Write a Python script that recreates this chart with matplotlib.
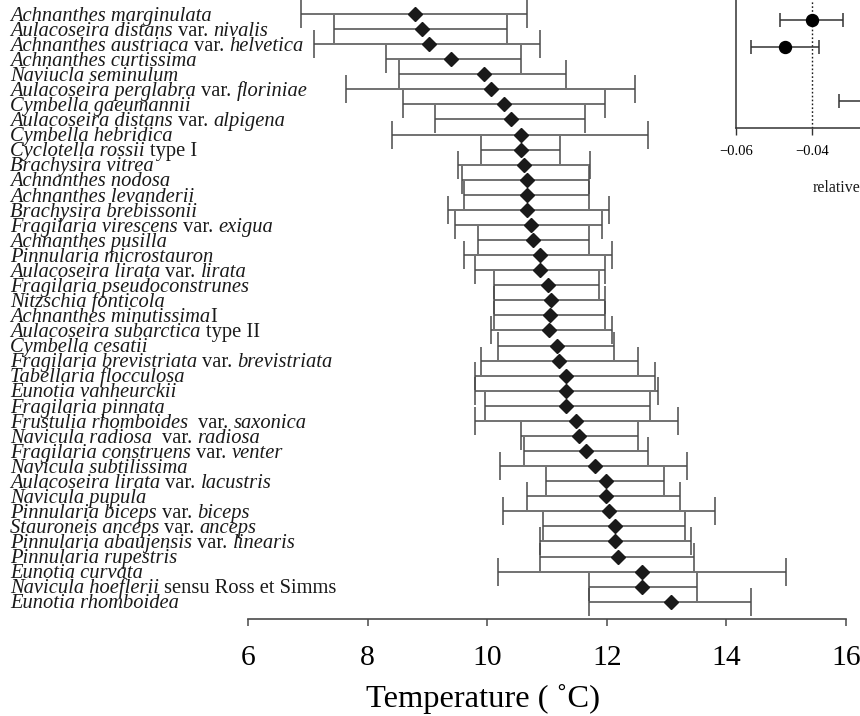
import re
import matplotlib
matplotlib.use("Agg")
import matplotlib.pyplot as plt
from matplotlib.transforms import blended_transform_factory

# Taxon names; text in braces is set upright, the rest in italics
taxa = [
    "Achnanthes marginulata",
    "Aulacoseira distans {var.} nivalis",
    "Achnanthes austriaca {var.} helvetica",
    "Achnanthes curtissima",
    "Naviucla seminulum",
    "Aulacoseira perglabra {var.} floriniae",
    "Cymbella gaeumannii",
    "Aulacoseira distans {var.} alpigena",
    "Cymbella hebridica",
    "Cyclotella rossii {type I}",
    "Brachysira vitrea",
    "Achnanthes nodosa",
    "Achnanthes levanderii",
    "Brachysira brebissonii",
    "Fragilaria virescens {var.} exigua",
    "Achnanthes pusilla",
    "Pinnularia microstauron",
    "Aulacoseira lirata {var.} lirata",
    "Fragilaria pseudoconstrunes",
    "Nitzschia fonticola",
    "Achnanthes minutissima{I}",
    "Aulacoseira subarctica {type II}",
    "Cymbella cesatii",
    "Fragilaria brevistriata {var.} brevistriata",
    "Tabellaria flocculosa",
    "Eunotia vanheurckii",
    "Fragilaria pinnata",
    "Frustulia rhomboides  {var.} saxonica",
    "Navicula radiosa  {var.} radiosa",
    "Fragilaria construens {var.} venter",
    "Navicula subtilissima",
    "Aulacoseira lirata {var.} lacustris",
    "Navicula pupula",
    "Pinnularia biceps {var.} biceps",
    "Stauroneis anceps {var.} anceps",
    "Pinnularia abaujensis {var.} linearis",
    "Pinnularia rupestris",
    "Eunotia curvata",
    "Navicula hoeflerii {sensu Ross et Simms}",
    "Eunotia rhomboidea",
]

# Temperature optima and tolerance ranges (deg C)
optimum = [8.80, 8.91, 9.02, 9.39, 9.95, 10.06, 10.28, 10.39, 10.56, 10.56,
           10.61, 10.66, 10.66, 10.66, 10.73, 10.77, 10.89, 10.89, 11.01, 11.06,
           11.05, 11.04, 11.16, 11.20, 11.32, 11.32, 11.32, 11.49, 11.54, 11.66,
           11.81, 11.99, 11.98, 12.03, 12.14, 12.14, 12.19, 12.59, 12.59, 13.08]
lower = [6.88, 7.43, 7.10, 8.31, 8.52, 7.64, 8.59, 9.13, 8.41, 9.89,
         9.51, 9.58, 9.62, 9.35, 9.46, 9.84, 9.62, 9.80, 10.12, 10.12,
         10.12, 10.07, 10.18, 9.89, 9.80, 9.80, 9.96, 9.80, 10.57, 10.61,
         10.22, 10.99, 10.67, 10.27, 10.94, 10.88, 10.88, 10.18, 11.71, 11.71]
upper = [10.67, 10.33, 10.88, 10.56, 11.32, 12.47, 11.97, 11.63, 12.69, 11.21,
         11.72, 11.70, 11.70, 12.04, 11.92, 11.70, 12.09, 11.97, 11.87, 11.97,
         11.97, 12.08, 12.12, 12.53, 12.80, 12.85, 12.73, 13.19, 12.53, 12.69,
         13.34, 12.96, 13.23, 13.81, 13.30, 13.41, 13.46, 15.00, 13.51, 14.41]
temp_ticks = [6, 8, 10, 12, 14, 16]

# Side panel: relative effect estimates
rel_rows = [1, 2, 4]
rel_mean = [-0.0400, -0.0471, -0.0200]
rel_low = [-0.0484, -0.0561, -0.0329]
rel_high = [-0.0320, -0.0381, -0.0071]
rel_ticks = [-0.06, -0.04]

W, H, DPI = 860, 716, 100
SERIF = ["Liberation Serif", "DejaVu Serif"]
LINE = "#4a4a4a"

plt.rcParams["font.family"] = SERIF
plt.rcParams["axes.unicode_minus"] = True

fig = plt.figure(figsize=(W / DPI, H / DPI), dpi=DPI)

# ---- main panel ----
row_step = 15.07
row0 = 14.0
ax_bottom_px = 619.0
ax_left_px, ax_right_px = 248.0, 846.0
ax = fig.add_axes([ax_left_px / W, (H - ax_bottom_px) / H,
                   (ax_right_px - ax_left_px) / W, ax_bottom_px / H])
ypos = list(range(len(taxa)))
xerr = [[o - l for o, l in zip(optimum, lower)], [u - o for o, u in zip(optimum, upper)]]
ax.errorbar(optimum, ypos, xerr=xerr, fmt="D", color="#1a1a1a", markersize=6.8,
            ecolor=LINE, elinewidth=1.1, capsize=10.4, capthick=1.1, zorder=3)
ax.set_xlim(6, 16)
ax.set_ylim((ax_bottom_px - row0) / row_step, -row0 / row_step)
for side in ("left", "right", "top"):
    ax.spines[side].set_visible(False)
ax.spines["bottom"].set_color(LINE)
ax.spines["bottom"].set_linewidth(1.2)
ax.set_yticks([])
ax.set_xticks(temp_ticks)
ax.tick_params(axis="x", direction="out", length=5.2, width=1.1, color=LINE,
               labelsize=21.3, pad=13.3)
ax.set_xlabel("Temperature ( \u02daC)", fontsize=23.4)
ax.xaxis.set_label_coords((483 - ax_left_px) / (ax_right_px - ax_left_px),
                          (ax_bottom_px - 684.0) / ax_bottom_px)

# baseline sits a little below the row centre
BASE_SHIFT = 6.7 / row_step


def draw_taxon(y, label, x_px=10, size=14.8):
    trans = blended_transform_factory(fig.transFigure, ax.transData)
    space_px = 0.25 * size * DPI / 72
    pending = 0
    prev = None
    for raw in re.split(r"(\{[^}]*\})", label):
        if not raw:
            continue
        upright = raw.startswith("{")
        s = raw.strip("{}")
        pending += len(s) - len(s.lstrip(" "))
        core = s.strip(" ")
        if core:
            style = "normal" if upright else "italic"
            if prev is None:
                prev = ax.text(x_px / W, y + BASE_SHIFT, core, transform=trans,
                               ha="left", va="baseline", fontsize=size,
                               fontstyle=style, color="#1a1a1a", clip_on=False)
            else:
                prev = ax.annotate(core, xy=(1, 0), xycoords=prev,
                                   xytext=(pending * space_px, 0),
                                   textcoords="offset pixels", ha="left",
                                   va="bottom", fontsize=size, fontstyle=style,
                                   color="#1a1a1a", annotation_clip=False)
            pending = len(s) - len(s.rstrip(" "))


for i, name in enumerate(taxa):
    draw_taxon(i, name)

# ---- side panel ----
x0_px, px_per = 735.7, 76.3 / 0.02
ins_h = 128.3
ins = fig.add_axes([x0_px / W, (H - ins_h) / H, (W - x0_px) / W, ins_h / H])
ins.set_xlim(-0.06, -0.06 + (W - x0_px) / px_per)
ins.set_ylim(0.26 + ins_h / 27.0, 0.26)
ins.axvline(-0.04, color="#1a1a1a", linestyle=(0, (1.2, 1.6)), linewidth=1.0)
ins.errorbar(rel_mean, rel_rows,
             xerr=[[m - l for m, l in zip(rel_mean, rel_low)],
                   [h - m for m, h in zip(rel_mean, rel_high)]],
             fmt="o", color="black", markersize=8.6, ecolor="#333333",
             elinewidth=1.1, capsize=4.7, capthick=1.1, clip_on=False)
for side in ("right", "top"):
    ins.spines[side].set_visible(False)
for side in ("left", "bottom"):
    ins.spines[side].set_color("#333333")
    ins.spines[side].set_linewidth(1.1)
ins.set_yticks([])
ins.set_xticks(rel_ticks)
ins.set_xticklabels(["\u22120.06", "\u22120.04"])
ins.tick_params(axis="x", direction="out", length=5, width=1.0, color="#333333",
                labelsize=10.5, pad=7)
fig.text(813 / W, 1 - 188 / H, "relative", fontsize=11.5, ha="left", va="center",
         color="#1a1a1a")

fig.savefig("out.png", dpi=DPI)
